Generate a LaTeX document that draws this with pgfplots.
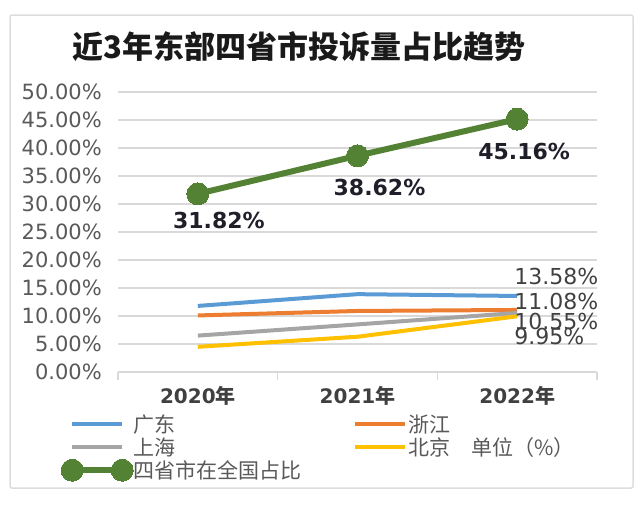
\documentclass[border=0pt]{standalone}
\usepackage{pgfplots}
\pgfplotsset{compat=1.18}
\usepackage{fontspec}
\setmainfont{DejaVu Sans}
\newfontfamily\cjk{Noto Sans CJK SC}
\definecolor{cblue}{HTML}{5B9BD5}
\definecolor{corange}{HTML}{ED7D31}
\definecolor{cgray}{HTML}{A5A5A5}
\definecolor{cyellow}{HTML}{FFC000}
\definecolor{cgreen}{HTML}{548235}
\definecolor{gridgray}{HTML}{D9D9D9}
\definecolor{framegray}{HTML}{DDDDDD}
\definecolor{tickcol}{HTML}{595959}
\definecolor{legcol}{HTML}{595959}
\definecolor{lblcol}{HTML}{1F1F2A}
\definecolor{rlblcol}{HTML}{404040}
\definecolor{titlecol}{HTML}{1A1A1A}
\begin{document}
\begin{tikzpicture}
\path[use as bounding box] (0pt,0pt) rectangle (640pt,-512pt);
\draw[color=framegray, line width=1.5pt, rounded corners=2pt] (10pt,-15pt) rectangle (633pt,-488pt);
\node[font=\cjk\bfseries\fontsize{31}{31}\selectfont, text=titlecol] at (299pt,-47pt) {近3年东部四省市投诉量占比趋势};
\begin{axis}[
  at={(118pt,-372pt)}, anchor=south west,
  scale only axis, width=479pt, height=280pt,
  xmin=-0.5, xmax=2.5, ymin=0, ymax=50,
  axis line style={draw=none},
  ytick={0,5,...,50},
  ymajorgrids,
  grid style={draw=gridgray, line width=1.5pt},
  /pgf/number format/assume math mode=true,
  yticklabel={\pgfmathprintnumber[fixed,fixed zerofill,precision=2]{\tick}\%},
  yticklabel style={font=\fontsize{21}{21}\selectfont, text=tickcol, inner sep=0pt, xshift=-8pt},
  ytick style={draw=none},
  xtick={-0.5,0.5,1.5,2.5},
  x tick label as interval,
  xticklabels={\textbf{2020}{\cjk\bfseries 年},\textbf{2021}{\cjk\bfseries 年},\textbf{2022}{\cjk\bfseries 年}},
  xticklabel style={font=\fontsize{20}{20}\selectfont, text=rlblcol, inner sep=0pt, yshift=-6pt},
  xtick style={draw=gridgray, line width=1.5pt},
  major tick length=8pt,
  tick align=outside,
  tick pos=left,
  clip=false,
  legend columns=2,
  legend cell align=left,
  legend style={at={(rel axis cs:0,0)}, anchor=north west, xshift=-57pt, yshift=-41pt,
    draw=none, fill=none, inner sep=0pt, row sep=1pt,
    font=\fontsize{21}{21}\selectfont, text=legcol,
    nodes={inner sep=0pt}},
  legend image code/.code={\path[draw=none, fill=none] (-11pt,-11pt) rectangle (53pt,11pt);
    \draw[#1] plot coordinates {(0pt,0pt) (50pt,0pt)};},
  every axis plot/.append style={line join=round},
]
\addplot[cblue, line width=4pt, mark=none] coordinates {(0,11.8) (1,13.9) (2,13.58)};
\addlegendentry{\makebox[211pt][l]{\cjk 广东}}
\addplot[corange, line width=4pt, mark=none] coordinates {(0,10.1) (1,10.9) (2,11.08)};
\addlegendentry{\makebox[211pt][l]{\cjk 浙江}}
\addplot[cgray, line width=4pt, mark=none] coordinates {(0,6.5) (1,8.5) (2,10.55)};
\addlegendentry{\makebox[211pt][l]{\cjk 上海}}
\addplot[cyellow, line width=4pt, mark=none] coordinates {(0,4.5) (1,6.3) (2,9.95)};
\addlegendentry{\makebox[211pt][l]{\cjk 北京　单位（\%）}}
\addplot[cgreen, line width=6pt, mark=*, mark size=11pt, mark options={solid, fill=cgreen, draw=cgreen, line width=0pt}] coordinates {(0,31.82) (1,38.62) (2,45.16)};
\addlegendentry{\makebox[211pt][l]{\cjk 四省市在全国占比}}
\node[font=\bfseries\fontsize{22}{22}\selectfont, text=lblcol] at (axis cs:0,31.82) [xshift=21pt, yshift=-27pt] {31.82\%};
\node[font=\bfseries\fontsize{22}{22}\selectfont, text=lblcol] at (axis cs:1,38.62) [xshift=22pt, yshift=-32pt] {38.62\%};
\node[font=\bfseries\fontsize{22}{22}\selectfont, text=lblcol] at (axis cs:2,45.16) [xshift=7pt, yshift=-32pt] {45.16\%};
\node[font=\fontsize{22}{22}\selectfont, text=rlblcol, anchor=west, inner sep=0pt] at (axis cs:2,17.0) [xshift=-3pt] {13.58\%};
\node[font=\fontsize{22}{22}\selectfont, text=rlblcol, anchor=west, inner sep=0pt] at (axis cs:2,12.6) [xshift=-3pt] {11.08\%};
\node[font=\fontsize{22}{22}\selectfont, text=rlblcol, anchor=west, inner sep=0pt] at (axis cs:2,9.0) [xshift=-3pt] {10.55\%};
\node[font=\fontsize{22}{22}\selectfont, text=rlblcol, anchor=west, inner sep=0pt] at (axis cs:2,6.3) [xshift=-3pt] {9.95\%};
\end{axis}
\end{tikzpicture}
\end{document}
